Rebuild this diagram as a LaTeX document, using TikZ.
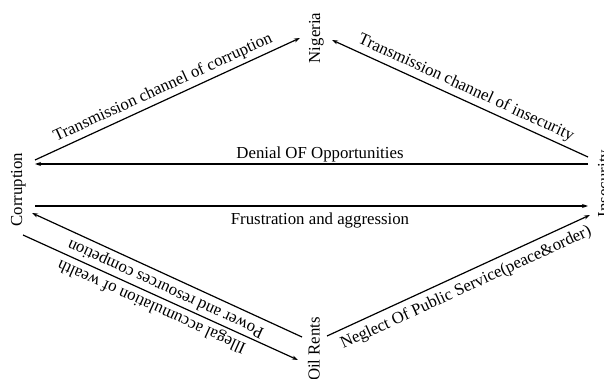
\documentclass[tikz,border=0pt]{standalone}
\usepackage{fontspec}
\setmainfont{Liberation Serif}
\usetikzlibrary{arrows.meta}
\begin{document}
\begin{tikzpicture}[x=1pt,y=-1pt,
  lbl/.style={font=\fontsize{16.8}{20}\selectfont, inner sep=0pt},
  ent/.style={lbl, rotate=90, anchor=base},
  conn/.style={line width=1.2pt, -{Stealth[length=6pt,width=4pt]}}]
\useasboundingbox (0,0) rectangle (604,379);
\clip (0,0) rectangle (604,379);
% entity labels
\node[ent] (nig) at (320,38) {Nigeria};
\node[ent] (cor) at (22,189.5) {Corruption};
\node[ent] (ins) at (609,183.5) {Insecurity};
\node[ent] (oil) at (319.5,349) {Oil Rents};
% connector end points
\coordinate (c1) at (35,160);
\coordinate (n1) at (300,38);
\coordinate (i1) at (588,157);
\coordinate (n2) at (332,40);
\coordinate (i2) at (588,164);
\coordinate (c2) at (35,164);
\coordinate (c3) at (35,206);
\coordinate (i3) at (588,206);
\coordinate (o1) at (302,337);
\coordinate (c4) at (32,213);
\coordinate (c5) at (23,235);
\coordinate (o2) at (298,360);
\coordinate (o3) at (327,336);
\coordinate (i4) at (590,215);
% connectors
\draw[conn] (c1) -- (n1);
\draw[conn] (i1) -- (n2);
\draw[conn] (i2) -- (c2);
\draw[conn] (c3) -- (i3);
\draw[conn] (o1) -- (c4);
\draw[conn] (c5) -- (o2);
\draw[conn] (o3) -- (i4);
% connector labels
\node[lbl, rotate=24.7] (l1) at (163,88) {Transmission channel of corruption};
\node[lbl, rotate=-24.6] (l2) at (466,88) {Transmission channel of insecurity};
\node[lbl, anchor=base] (l3) at (320,158.3) {Denial OF Opportunities};
\node[lbl, anchor=base] (l4) at (320,225) {Frustration and aggression};
\node[lbl, rotate=155.3] (l5) at (166,288) {Power and resources competion};
\node[lbl, rotate=155.6] (l6) at (152,306) {Illegal accumulation of wealth};
\node[lbl, rotate=24.7] (l7) at (466,288) {Neglect Of Public Service(peace\&order)};
\end{tikzpicture}
\end{document}
